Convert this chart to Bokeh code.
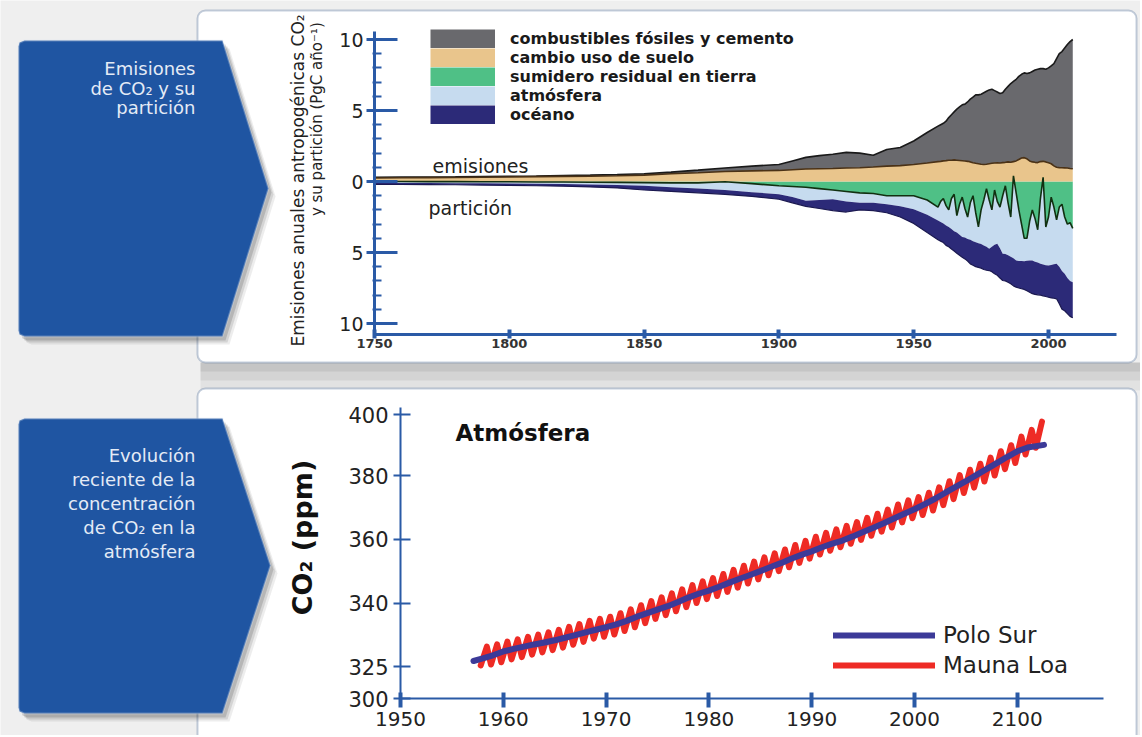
import numpy as np
from bokeh.plotting import figure
from bokeh.models import (Range1d, FixedTicker, Label, PolyAnnotation, BoxAnnotation,
                          Legend, LegendItem, ColumnDataSource, LinearAxis)
from bokeh.embed import file_html
from bokeh.resources import INLINE

# ---------------- top chart: CO2 emissions and partition (PgC / yr) ----------------
years = [1750, 1760, 1770, 1780, 1790, 1800, 1810, 1820, 1830, 1840, 1850, 1860, 1870, 1880,
         1890, 1900, 1905, 1910, 1915, 1920, 1925, 1930, 1935, 1940, 1945, 1950, 1955,
         1959, 1960, 1961, 1962, 1963, 1964, 1965, 1966, 1967, 1968,
         1969, 1970, 1971, 1972, 1973, 1974, 1975, 1976, 1977, 1978,
         1979, 1980, 1981, 1982, 1983, 1984, 1985, 1986, 1987, 1988,
         1989, 1990, 1991, 1992, 1993, 1994, 1995, 1996, 1997, 1998,
         1999, 2000, 2001, 2002, 2003, 2004, 2005, 2006, 2007, 2008, 2009]
fossil = [0.05, 0.05, 0.05, 0.05, 0.05, 0.05, 0.05, 0.06, 0.07, 0.08, 0.10, 0.11, 0.18, 0.25,
          0.33, 0.42, 0.62, 0.82, 0.92, 1.00, 1.10, 1.03, 0.83, 1.17, 1.28, 1.65, 2.15,
          2.50, 2.58, 2.65, 2.78, 3.00, 3.20, 3.38, 3.60, 3.77, 3.94,
          4.01, 4.18, 4.42, 4.63, 4.82, 4.85, 4.93, 5.05, 5.13, 5.20,
          5.22, 5.10, 4.98, 4.90, 4.92, 5.15, 5.32, 5.55, 5.65, 5.75,
          5.85, 5.90, 5.97, 6.00, 6.20, 6.37, 6.50, 6.57, 6.55, 6.53,
          6.52, 6.68, 6.90, 7.20, 7.65, 8.02, 8.18, 8.44, 8.70, 8.93, 9.10]
land_use = [0.25, 0.26, 0.27, 0.28, 0.30, 0.32, 0.34, 0.36, 0.38, 0.41, 0.45, 0.55, 0.62, 0.70,
            0.75, 0.78, 0.83, 0.88, 0.90, 0.92, 0.95, 0.97, 1.02, 1.08, 1.12, 1.20, 1.30,
            1.40, 1.42, 1.45, 1.47, 1.50, 1.50, 1.52, 1.50, 1.48, 1.46,
            1.44, 1.42, 1.38, 1.32, 1.28, 1.25, 1.22, 1.20, 1.22, 1.25,
            1.28, 1.30, 1.32, 1.30, 1.33, 1.35, 1.38, 1.35, 1.40, 1.45,
            1.55, 1.65, 1.68, 1.60, 1.45, 1.38, 1.35, 1.33, 1.40, 1.42,
            1.38, 1.32, 1.25, 1.10, 1.00, 0.98, 0.97, 0.96, 0.95, 0.92, 0.90]
land_sink = [0.00, 0.00, 0.01, 0.01, 0.02, 0.02, 0.03, 0.04, 0.05, 0.06, 0.08, 0.10, 0.10, 0.02,
             0.15, 0.30, 0.35, 0.40, 0.50, 0.60, 0.70, 0.80, 0.85, 1.00, 1.00, 1.00, 1.30,
             1.8, 1.4, 1.2, 1.7, 2.0, 1.2, 0.9, 2.4, 1.6, 1.1,
             1.9, 2.5, 1.5, 1.0, 2.2, 3.2, 2.0, 1.3, 0.5, 1.3,
             2.0, 0.6, 1.4, 1.8, 1.0, 0.3, 1.5, 2.5, -0.4, 0.8,
             2.0, 3.0, 4.0, 4.0, 2.8, 2.0, 2.6, 3.4, 1.2, -0.3,
             3.2, 2.5, 1.1, 1.8, 2.7, 1.8, 1.6, 2.5, 3.0, 2.9, 3.3]
atmosphere = [0.10, 0.10, 0.10, 0.11, 0.11, 0.12, 0.13, 0.14, 0.16, 0.19, 0.22, 0.30, 0.40, 0.58,
              0.60, 0.60, 0.75, 0.95, 0.80, 0.65, 0.70, 0.70, 0.65, 0.60, 0.75, 0.95, 1.05,
              0.95, 1.45, 1.75, 1.40, 1.20, 2.15, 2.60, 1.20, 2.15, 2.80,
              2.05, 1.55, 2.60, 3.20, 2.07, 1.15, 2.40, 3.20, 4.10, 3.44,
              2.60, 3.85, 2.99, 2.90, 4.09, 4.80, 3.70, 2.80, 5.80, 4.76,
              3.60, 2.60, 1.62, 1.58, 2.76, 3.56, 3.05, 2.30, 4.60, 6.15,
              2.70, 3.42, 4.78, 4.02, 3.10, 4.20, 4.70, 4.00, 3.80, 4.10, 3.80]
ocean = [0.10, 0.11, 0.11, 0.11, 0.12, 0.13, 0.14, 0.15, 0.17, 0.20, 0.30, 0.30, 0.30, 0.30,
         0.30, 0.35, 0.40, 0.40, 0.60, 0.80, 0.75, 0.50, 0.55, 0.60, 0.75, 1.00, 1.25,
         1.35, 1.35, 1.35, 1.40, 1.40, 1.40, 1.40, 1.45, 1.45, 1.43,
         1.50, 1.55, 1.70, 1.70, 1.73, 1.70, 1.70, 1.70, 1.65, 1.53,
         1.75, 2.05, 2.21, 2.10, 1.88, 1.90, 1.90, 1.90, 1.95, 1.88,
         1.90, 1.95, 1.98, 2.12, 2.24, 2.34, 2.30, 2.28, 2.20, 2.20,
         2.20, 2.23, 2.32, 2.40, 2.46, 2.60, 2.70, 2.60, 2.50, 2.50, 2.50]
legend_labels = ["combustibles fósiles y cemento", "cambio uso de suelo",
                 "sumidero residual en tierra", "atmósfera", "océano"]
top_x_ticks = [1750, 1800, 1850, 1900, 1950, 2000]
top_y_ticks = [-10, -5, 0, 5, 10]
top_y_tick_labels = ["10", "\u20075", "\u20070", "\u20075", "10"]

# ---------------- bottom chart: atmospheric CO2 (ppm) ----------------
ps_years = [1957.1, 1958, 1959, 1960, 1961, 1962, 1963, 1964, 1965, 1966, 1967, 1968, 1969,
            1970, 1971, 1972, 1973, 1974, 1975, 1976, 1977, 1978, 1979, 1980, 1981, 1982,
            1983, 1984, 1985, 1986, 1987, 1988, 1989, 1990, 1991, 1992, 1993, 1994, 1995,
            1996, 1997, 1998, 1999, 2000, 2001, 2002, 2003, 2004, 2005, 2006, 2007, 2008,
            2009, 2010, 2011, 2012.6]
ps_ppm = [321.8, 322.6, 323.6, 324.8, 325.6, 326.3, 327.0, 327.6, 328.3, 329.1, 329.9, 330.8,
          331.6, 332.4, 333.3, 334.4, 335.7, 336.8, 337.9, 339.0, 340.3, 341.7, 342.9, 343.9,
          345.1, 346.4, 347.6, 348.8, 350.0, 351.3, 352.5, 353.9, 355.1, 356.2, 357.5, 358.6,
          359.6, 360.9, 362.3, 363.6, 365.0, 366.5, 368.0, 369.4, 371.0, 372.7, 374.6, 376.4,
          378.2, 380.1, 382.0, 383.9, 385.8, 387.6, 388.8, 389.6]
# Mauna Loa seasonal cycle: autumn minimum (of the previous year) and spring maximum, per year
ml_year = list(range(1958, 2013))
ml_min = [320.4, 320.7, 321.4, 322.3, 323.0, 323.8, 324.5, 325.2, 326.0, 326.9, 327.8,
          328.8, 329.4, 330.1, 331.2, 332.4, 333.7, 335.0, 336.2, 337.4, 338.7, 340.0,
          341.2, 342.2, 343.5, 344.8, 346.1, 347.4, 348.7, 350.0, 351.2, 352.6, 353.9,
          355.2, 356.4, 357.5, 358.6, 359.8, 361.1, 362.4, 363.7, 365.3, 366.6, 367.6,
          369.0, 370.7, 372.6, 374.5, 376.2, 378.1, 380.0, 382.0, 383.9, 386.6, 388.7]
ml_max = [326.3, 327.0, 327.9, 328.6, 329.4, 330.1, 330.8, 331.6, 332.5, 333.4, 334.4,
          335.0, 335.7, 336.8, 338.0, 339.3, 340.6, 341.8, 343.0, 344.3, 345.6, 346.8,
          347.8, 349.1, 350.4, 351.7, 353.0, 354.3, 355.6, 356.8, 358.2, 359.5, 360.8,
          362.0, 363.1, 364.2, 365.4, 366.7, 368.0, 369.3, 370.9, 372.2, 373.2, 374.6,
          376.3, 378.2, 380.1, 381.8, 383.7, 385.6, 387.6, 389.5, 392.2, 394.3, 396.9]
series_names = ["Polo Sur", "Mauna Loa"]
bot_x_ticks = [1950, 1960, 1970, 1980, 1990, 2000, 2010]
bot_x_tick_labels = ["1950", "1960", "1970", "1980", "1990", "2000", "2100"]
bot_y_ticks = [310, 320, 340, 360, 380, 399]
bot_y_tick_labels = ["300", "325", "340", "360", "380", "400"]

# ---------------- styling ----------------
FONT = "DejaVu Sans"
AXIS_BLUE = "#2a5aa6"
BOX_BLUE = "#1f55a2"
BOX_TEXT = "#e4ebf6"
PAGE_BG = "#efefef"
PANEL_LINE = "#3d5d8c"
C_FOSSIL, C_LUC, C_LAND, C_ATM, C_OCEAN = "#69696d", "#e9c58c", "#4fc086", "#c6dbef", "#2c2a78"
W, H = 1140, 735


def Y(py):
    """page pixel row (from top) -> decoration y (from bottom)"""
    return H - py


def lin_range(a_px, a_val, b_px, b_val, total):
    k = (b_val - a_val) / (b_px - a_px)
    return Range1d(start=a_val - a_px * k, end=a_val + (total - a_px) * k)


def lin_val(a_px, a_val, b_px, b_val, px):
    return a_val + (px - a_px) * (b_val - a_val) / (b_px - a_px)


# pixel anchors of the two charts
TX = (374, 1750, 1048, 2000)          # top chart: x pixel -> year
TY = (Y(181), 0, Y(39), 10)           # top chart: y pixel -> PgC/yr
BX = (400, 1950, 1016.8, 2010)        # bottom chart: x pixel -> year
BY = (Y(602.5), 340, Y(475), 380)     # bottom chart: y pixel -> ppm

p = figure(width=W, height=H, x_range=Range1d(0, W), y_range=Range1d(0, H),
           output_backend="svg", toolbar_location=None, title=None,
           x_axis_location=None, y_axis_location=None,
           min_border_left=0, min_border_right=0, min_border_top=0, min_border_bottom=0,
           background_fill_color=PAGE_BG, border_fill_color=PAGE_BG, outline_line_color=None)
p.grid.visible = False
p.extra_x_ranges = {"tx": lin_range(*TX, W), "bx": lin_range(*BX, W)}
p.extra_y_ranges = {"ty": lin_range(*TY, H), "by": lin_range(*BY, H)}


def box(left, right, top, bottom, **kw):
    p.add_layout(BoxAnnotation(left=left, right=right, top=Y(top), bottom=Y(bottom), **kw))


# ---------- page background, shadows and panels ----------
for y0, y1, a in [(362, 390, 0.05), (362, 380, 0.06), (362, 371, 0.07)]:
    box(200, 1140, y0, y1, fill_color="black", fill_alpha=a, line_color=None, level="underlay")
box(197, 1136, 10, 362, fill_color="white", fill_alpha=1.0, line_color=PANEL_LINE, line_width=2,
    border_radius=8, level="underlay")
box(197, 1136, 388, 760, fill_color="white", fill_alpha=1.0, line_color=PANEL_LINE, line_width=2,
    border_radius=8, level="underlay")


def pentagon(pent_top, pent_bottom, tip, lines, baselines):
    pent = [(18, pent_top + 6), (19, pent_top + 2), (24, pent_top), (222, pent_top), tip,
            (222, pent_bottom), (24, pent_bottom), (19, pent_bottom - 2), (18, pent_bottom - 6)]
    for dx, dy, a in [(7, 8, 0.07), (5, 6, 0.10), (3, 4, 0.14)]:
        p.add_layout(PolyAnnotation(xs=[x + dx for x, _ in pent], ys=[Y(y + dy) for _, y in pent],
                                    fill_color="black", fill_alpha=a, line_color=None))
    p.add_layout(PolyAnnotation(xs=[x for x, _ in pent], ys=[Y(y) for _, y in pent],
                                fill_color=BOX_BLUE, fill_alpha=1.0, line_color="#dbe5f3",
                                line_width=2))
    for t, b in zip(lines, baselines):
        p.add_layout(Label(x=195, y=Y(b), text=t, text_font=FONT, text_font_size="18px",
                           text_color=BOX_TEXT, text_align="right", text_baseline="alphabetic"))


# ================= TOP CHART =================
lu = np.array(land_use); ff = np.array(fossil); ls = np.array(land_sink)
at = np.array(atmosphere); oc = np.array(ocean)
src = ColumnDataSource(dict(year=years, zero=np.zeros(len(years)), lu_top=lu, ff_top=lu + ff,
                            ls_bot=-ls, at_bot=-(ls + at), oc_bot=-(ls + at + oc)))
tk = dict(source=src, x_range_name="tx", y_range_name="ty")
r_ls = p.varea(x="year", y1="zero", y2="ls_bot", fill_color=C_LAND, **tk)
r_at = p.varea(x="year", y1="ls_bot", y2="at_bot", fill_color=C_ATM, **tk)
r_oc = p.varea(x="year", y1="at_bot", y2="oc_bot", fill_color=C_OCEAN, **tk)
r_lu = p.varea(x="year", y1="zero", y2="lu_top", fill_color=C_LUC, **tk)
r_ff = p.varea(x="year", y1="lu_top", y2="ff_top", fill_color=C_FOSSIL, **tk)
p.line(x="year", y="oc_bot", line_color="#1b1950", line_width=1.2, **tk)
p.line(x="year", y="ff_top", line_color="#1a1a1a", line_width=1.6, **tk)
p.line(x="year", y="lu_top", line_color="#4b3216", line_width=1.6, **tk)
p.line(x="year", y="ls_bot", line_color="#113011", line_width=1.6, **tk)

xa = LinearAxis(x_range_name="tx", y_range_name="ty", fixed_location=lin_val(*TY, Y(334)),
                bounds=(1750, lin_val(*TX, 1116)), ticker=FixedTicker(ticks=top_x_ticks))
xa.axis_line_color = AXIS_BLUE; xa.axis_line_width = 3
xa.major_tick_line_color = AXIS_BLUE; xa.major_tick_line_width = 4
xa.major_tick_in = 5; xa.major_tick_out = 4
xa.minor_tick_line_color = None
xa.major_label_text_font = FONT; xa.major_label_text_font_size = "13px"
xa.major_label_text_font_style = "bold"; xa.major_label_text_color = "#333333"
xa.major_label_standoff = 0
p.add_layout(xa, "below")

ya = LinearAxis(x_range_name="tx", y_range_name="ty", fixed_location=1750,
                bounds=(lin_val(*TY, Y(334)), lin_val(*TY, Y(31))),
                ticker=FixedTicker(ticks=top_y_ticks, minor_ticks=list(range(-10, 11))))
ya.major_label_overrides = {t: l for t, l in zip(top_y_ticks, top_y_tick_labels)}
ya.axis_line_color = AXIS_BLUE; ya.axis_line_width = 3
ya.major_tick_line_color = AXIS_BLUE; ya.major_tick_line_width = 3
ya.major_tick_in = 23; ya.major_tick_out = 8
ya.minor_tick_line_color = AXIS_BLUE; ya.minor_tick_line_width = 2
ya.minor_tick_in = 7; ya.minor_tick_out = 2
ya.major_label_text_font = FONT; ya.major_label_text_font_size = "19px"
ya.major_label_text_color = "#222222"; ya.major_label_standoff = 3
p.add_layout(ya, "left")

# legend: each entry shows its area plus a full-size colour swatch
# (a legend-only thick line holding a single NaN point, so nothing is drawn on the chart)
area_renderers = [r_ff, r_lu, r_ls, r_at, r_oc]
swatch_colors = [C_FOSSIL, C_LUC, C_LAND, C_ATM, C_OCEAN]
items = []
for lab, r, c in zip(legend_labels, area_renderers, swatch_colors):
    sw = p.line(x=[np.nan], y=[np.nan], line_color=c, line_width=19, line_cap="butt",
                x_range_name="tx", y_range_name="ty")
    items.append(LegendItem(label=lab, renderers=[r, sw]))
leg = Legend(items=items, location=(430, Y(124)), orientation="vertical", glyph_width=65,
             glyph_height=19, label_height=19, spacing=0, padding=0, margin=0, label_standoff=15,
             label_text_font=FONT, label_text_font_style="bold", label_text_font_size="16px",
             label_text_color="#1a1a1a", border_line_color=None, background_fill_alpha=0)
p.add_layout(leg)

pentagon(40, 336, (268, 188), ["Emisiones", "de CO₂ y su", "partición"], [68, 88, 107])
p.add_layout(Label(x=297, y=Y(180), angle=np.pi / 2,
                   text="Emisiones anuales antropogénicas CO₂", text_font=FONT,
                   text_font_size="17px", text_color="#222222", text_align="center",
                   text_baseline="middle"))
p.add_layout(Label(x=316, y=Y(17), angle=np.pi / 2,
                   text="y su partición  (PgC año⁻¹)", text_font=FONT,
                   text_font_size="15px", text_color="#222222", text_align="right",
                   text_baseline="middle"))
p.add_layout(Label(x=432, y=Y(165), text="emisiones", text_font=FONT, text_font_size="19px",
                   text_color="#222222", text_baseline="alphabetic"))
p.add_layout(Label(x=428, y=Y(207), text="partición", text_font=FONT, text_font_size="19px",
                   text_color="#222222", text_baseline="alphabetic"))

# ================= BOTTOM CHART =================
ml_t, ml_v = [], []
for yr, lo, hi in zip(ml_year, ml_min, ml_max):
    ml_t += [yr - 0.2, yr + 0.4]
    ml_v += [lo, hi]
bk = dict(x_range_name="bx", y_range_name="by")
r_ml = p.line(ml_t, ml_v, line_color="#ee2b25", line_width=6, line_join="round",
              line_cap="round", **bk)
r_ps = p.line(ps_years, ps_ppm, line_color="#3c3a98", line_width=6, line_join="round",
              line_cap="round", **bk)

bxa = LinearAxis(x_range_name="bx", y_range_name="by", fixed_location=lin_val(*BY, Y(698)),
                 bounds=(1950, lin_val(*BX, 1103)), ticker=FixedTicker(ticks=bot_x_ticks))
bxa.major_label_overrides = {t: l for t, l in zip(bot_x_ticks, bot_x_tick_labels)}
bxa.axis_line_color = AXIS_BLUE; bxa.axis_line_width = 2
bxa.major_tick_line_color = AXIS_BLUE; bxa.major_tick_line_width = 4
bxa.major_tick_in = 6; bxa.major_tick_out = 9
bxa.minor_tick_line_color = None
bxa.major_label_text_font = FONT; bxa.major_label_text_font_size = "20px"
bxa.major_label_text_color = "#222222"; bxa.major_label_standoff = 4
p.add_layout(bxa, "below")

bya = LinearAxis(x_range_name="bx", y_range_name="by", fixed_location=1950,
                 bounds=(lin_val(*BY, Y(698)), lin_val(*BY, Y(407))),
                 ticker=FixedTicker(ticks=bot_y_ticks))
bya.major_label_overrides = {t: l for t, l in zip(bot_y_ticks, bot_y_tick_labels)}
bya.axis_line_color = AXIS_BLUE; bya.axis_line_width = 2
bya.major_tick_line_color = AXIS_BLUE; bya.major_tick_line_width = 2
bya.major_tick_in = 10; bya.major_tick_out = 7
bya.minor_tick_line_color = None
bya.major_label_text_font = FONT; bya.major_label_text_font_size = "21px"
bya.major_label_text_color = "#222222"; bya.major_label_standoff = 5
p.add_layout(bya, "left")

leg2 = Legend(items=[LegendItem(label=series_names[0], renderers=[r_ps]),
                     LegendItem(label=series_names[1], renderers=[r_ml])],
              location=(833, Y(680)), orientation="vertical", glyph_width=102, glyph_height=30,
              label_height=30, spacing=0, padding=0, margin=0, label_standoff=8,
              label_text_font=FONT, label_text_font_size="23px", label_text_color="#222222",
              border_line_color=None, background_fill_alpha=0)
p.add_layout(leg2)

pentagon(418, 713, (270, 565),
         ["Evolución", "reciente de la", "concentración", "de CO₂ en la", "atmósfera"],
         [455, 479, 503, 527, 551])
p.add_layout(Label(x=302, y=Y(537), angle=np.pi / 2, text="CO₂ (ppm)", text_font=FONT,
                   text_font_size="27px", text_font_style="bold", text_color="#111111",
                   text_align="center", text_baseline="middle"))
p.add_layout(Label(x=455, y=Y(432), text="Atmósfera", text_font=FONT, text_font_size="23px",
                   text_font_style="bold", text_color="#111111", text_baseline="alphabetic"))

open("out.html", "w").write(file_html(p, INLINE))
